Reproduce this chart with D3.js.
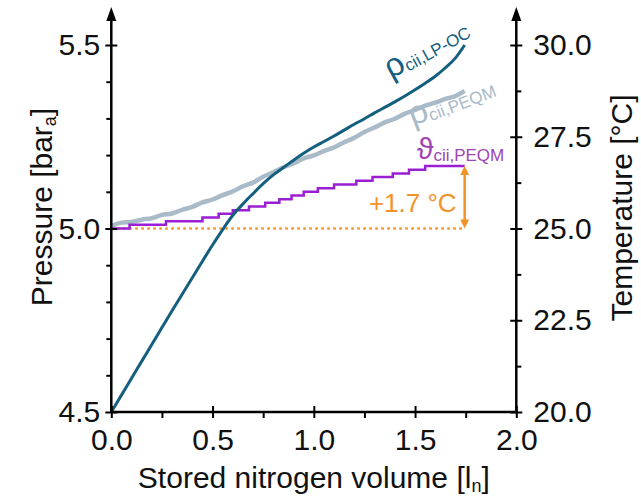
<!DOCTYPE html>
<html>
<head>
<meta charset="utf-8">
<script src="https://cdn.jsdelivr.net/npm/d3@7"></script>
<style>
  body { margin: 0; background: #fff; }
  text { font-family: "Liberation Sans", Arial, sans-serif; }
</style>
</head>
<body>
<svg id="chart" width="641" height="501"></svg>
<script>

/****** Data ******/

// stored nitrogen volume [l_n] for the two pressure traces
var volume = [0, 0.05, 0.1, 0.15, 0.2, 0.25, 0.3, 0.35, 0.4, 0.45, 0.5, 0.55,
              0.6, 0.65, 0.7, 0.75, 0.8, 0.85, 0.9, 0.95, 1.0, 1.05, 1.1, 1.15,
              1.2, 1.25, 1.3, 1.35, 1.4, 1.45, 1.5, 1.55, 1.6, 1.65, 1.7, 1.745];

// pressure [bar_a], LP-OC trace
var pressureLpOc = [4.500, 4.546, 4.592, 4.638, 4.684, 4.730, 4.776, 4.821, 4.866, 4.911, 4.955, 4.997,
                    5.036, 5.067, 5.095, 5.122, 5.146, 5.166, 5.186, 5.205, 5.222, 5.237, 5.252, 5.268,
                    5.284, 5.299, 5.315, 5.330, 5.345, 5.361, 5.378, 5.396, 5.415, 5.438, 5.465, 5.500];

// pressure [bar_a], PEQM trace
var pressurePeqm = [5.006, 5.016, 5.018, 5.024, 5.028, 5.037, 5.041, 5.051, 5.059, 5.071, 5.079, 5.091,
                    5.101, 5.115, 5.125, 5.141, 5.153, 5.167, 5.177, 5.191, 5.199, 5.211, 5.221, 5.235,
                    5.247, 5.263, 5.275, 5.289, 5.299, 5.313, 5.323, 5.335, 5.343, 5.353, 5.361, 5.375];

// temperature PEQM [°C]: volume where each step starts and the level it holds
var tempStepVolume = [0, 0.09, 0.27, 0.45, 0.53, 0.60, 0.68, 0.76, 0.83, 0.89,
                      0.95, 1.02, 1.10, 1.21, 1.29, 1.39, 1.47, 1.55, 1.745];
var tempPeqm = [25.0, 25.1, 25.2, 25.3, 25.4, 25.5, 25.6, 25.7, 25.8, 25.9,
                26.0, 26.1, 26.2, 26.3, 26.4, 26.5, 26.6, 26.7, 26.7];

var tempRiseLabel = "+1.7 °C";

var xTicks = [0, 0.5, 1.0, 1.5, 2.0];
var xMinor = [0.25, 0.75, 1.25, 1.75];
var pTicks = [4.5, 5.0, 5.5];
var pMinor = [4.6, 4.7, 4.8, 4.9, 5.1, 5.2, 5.3, 5.4];
var tTicks = [20, 22.5, 25, 27.5, 30];
var tMinor = [21.25, 23.75, 26.25, 28.75];

/****** Setup ******/

var _svg = d3.select("#chart"),
    _left = 111.3, _right = 516.3,
    _top = 45, _bottom = 412;

var _colors = {
  lpoc: "#145f7f",
  peqm: "#a9bbc8",
  temp: "#9a1fd2",
  tempText: "#a044b4",
  orange: "#f4922a"
};

var x = d3.scaleLinear().domain([0, 2]).range([_left, _right]);
var yP = d3.scaleLinear().domain([4.5, 5.5]).range([_bottom, _top]);
var yT = d3.scaleLinear().domain([20, 30]).range([_bottom, _top]);

var fmt1 = d3.format(".1f");

/****** Lines ******/

var pLine = d3.line()
    .curve(d3.curveMonotoneX)
    .x(function (d, i) { return x(volume[i]); })
    .y(function (d) { return yP(d); });

var tLine = d3.line()
    .curve(d3.curveStepAfter)
    .x(function (d, i) { return x(tempStepVolume[i]); })
    .y(function (d) { return yT(d); });

var last = tempStepVolume.length - 1;

// dotted baseline at the start temperature
_svg.append("line")
    .attr("x1", x(0)).attr("x2", x(tempStepVolume[last]))
    .attr("y1", yT(tempPeqm[0])).attr("y2", yT(tempPeqm[0]))
    .attr("stroke", _colors.orange)
    .attr("stroke-width", 2.5)
    .attr("stroke-dasharray", "2.5,3.5");

_svg.append("path")
    .datum(pressurePeqm)
    .attr("d", pLine)
    .attr("fill", "none")
    .attr("stroke", _colors.peqm)
    .attr("stroke-width", 4.5)
    .attr("stroke-linejoin", "round");

_svg.append("path")
    .datum(tempPeqm)
    .attr("d", tLine)
    .attr("fill", "none")
    .attr("stroke", _colors.temp)
    .attr("stroke-width", 2.5);

_svg.append("path")
    .datum(pressureLpOc)
    .attr("d", pLine)
    .attr("fill", "none")
    .attr("stroke", _colors.lpoc)
    .attr("stroke-width", 3)
    .attr("stroke-linejoin", "round");

/****** Temperature rise annotation ******/

var ax = x(tempStepVolume[last]),
    ay0 = yT(tempPeqm[0]),
    ay1 = yT(tempPeqm[last]);

_svg.append("line")
    .attr("x1", ax).attr("x2", ax)
    .attr("y1", ay0 - 8).attr("y2", ay1 + 8)
    .attr("stroke", _colors.orange)
    .attr("stroke-width", 2.5);

_svg.append("path")
    .attr("d", "M" + ax + "," + ay1 + "l-4.5,9h9z" +
               "M" + ax + "," + ay0 + "l-4.5,-9h9z")
    .attr("fill", _colors.orange);

_svg.append("text")
    .attr("x", ax - 8).attr("y", 212)
    .attr("text-anchor", "end")
    .attr("font-size", 26)
    .attr("fill", _colors.orange)
    .text(tempRiseLabel);

/****** Axes ******/

function styleAxis(g) {
  g.select(".domain").remove();
  g.selectAll("line").attr("stroke", "#000").attr("stroke-width", 2);
  g.selectAll("text").attr("font-size", 30).attr("fill", "#111")
    .attr("font-family", "Liberation Sans, Arial, sans-serif");
}

// x axis
_svg.append("g").attr("transform", "translate(0," + _bottom + ")")
    .call(d3.axisBottom(x).tickValues(xTicks).tickSize(6).tickPadding(11).tickFormat(fmt1))
    .call(styleAxis);
_svg.append("g").attr("transform", "translate(0," + _bottom + ")")
    .call(d3.axisTop(x).tickValues(xTicks).tickSize(6).tickFormat(""))
    .call(styleAxis);
_svg.append("g").attr("transform", "translate(0," + _bottom + ")")
    .call(d3.axisBottom(x).tickValues(xMinor).tickSize(6).tickFormat(""))
    .call(styleAxis);

// left (pressure) axis
_svg.append("g").attr("transform", "translate(" + _left + ",0)")
    .call(d3.axisLeft(yP).tickValues(pTicks).tickSize(6).tickPadding(5).tickFormat(fmt1))
    .call(styleAxis);
_svg.append("g").attr("transform", "translate(" + _left + ",0)")
    .call(d3.axisRight(yP).tickValues(pTicks).tickSize(6).tickFormat(""))
    .call(styleAxis);
_svg.append("g").attr("transform", "translate(" + _left + ",0)")
    .call(d3.axisLeft(yP).tickValues(pMinor).tickSize(5).tickFormat(""))
    .call(styleAxis);

// right (temperature) axis
_svg.append("g").attr("transform", "translate(" + _right + ",0)")
    .call(d3.axisRight(yT).tickValues(tTicks).tickSize(6).tickPadding(11).tickFormat(fmt1))
    .call(styleAxis);
_svg.append("g").attr("transform", "translate(" + _right + ",0)")
    .call(d3.axisLeft(yT).tickValues(tTicks).tickSize(6).tickFormat(""))
    .call(styleAxis);
_svg.append("g").attr("transform", "translate(" + _right + ",0)")
    .call(d3.axisRight(yT).tickValues(tMinor).tickSize(5).tickFormat(""))
    .call(styleAxis);

// axis lines with arrow heads
_svg.append("line")
    .attr("x1", _left).attr("x2", _right)
    .attr("y1", _bottom).attr("y2", _bottom)
    .attr("stroke", "#000").attr("stroke-width", 2.5);

[_left, _right].forEach(function (ax0) {
  _svg.append("line")
      .attr("x1", ax0).attr("x2", ax0)
      .attr("y1", _bottom).attr("y2", 18)
      .attr("stroke", "#000").attr("stroke-width", 2.5);
  _svg.append("path")
      .attr("d", "M" + ax0 + ",7l-5,14h10z")
      .attr("fill", "#000");
});

/****** Titles ******/

var xTitle = _svg.append("text")
    .attr("x", (_left + _right) / 2).attr("y", 488)
    .attr("text-anchor", "middle")
    .attr("font-size", 30).attr("fill", "#111");
xTitle.append("tspan").text("Stored nitrogen volume [l");
xTitle.append("tspan").attr("font-size", 18).attr("dy", 4).text("n");
xTitle.append("tspan").attr("dy", -4).text("]");

var pTitle = _svg.append("text")
    .attr("transform", "translate(52,207) rotate(-90)")
    .attr("text-anchor", "middle")
    .attr("font-size", 30).attr("fill", "#111");
pTitle.append("tspan").text("Pressure [bar");
pTitle.append("tspan").attr("font-size", 18).attr("dy", 4).text("a");
pTitle.append("tspan").attr("dy", -4).text("]");

_svg.append("text")
    .attr("transform", "translate(632,208) rotate(-90)")
    .attr("text-anchor", "middle")
    .attr("font-size", 30).attr("fill", "#111")
    .text("Temperature [°C]");

/****** Series labels ******/

function seriesLabel(tx, ty, angle, sym, sub, color, symSize) {
  var t = _svg.append("text")
      .attr("transform", "translate(" + tx + "," + ty + ") rotate(" + angle + ")")
      .attr("fill", color);
  t.append("tspan").attr("font-size", symSize).text(sym);
  t.append("tspan").attr("font-size", 17).attr("dy", 2).text(sub);
}

seriesLabel(391, 79, -29, "ρ", "cii,LP-OC", _colors.lpoc, 33);
seriesLabel(413, 126, -21, "ρ", "cii,PEQM", _colors.peqm, 33);
seriesLabel(417, 159, 0, "ϑ", "cii,PEQM", _colors.tempText, 30);

</script>
</body>
</html>
